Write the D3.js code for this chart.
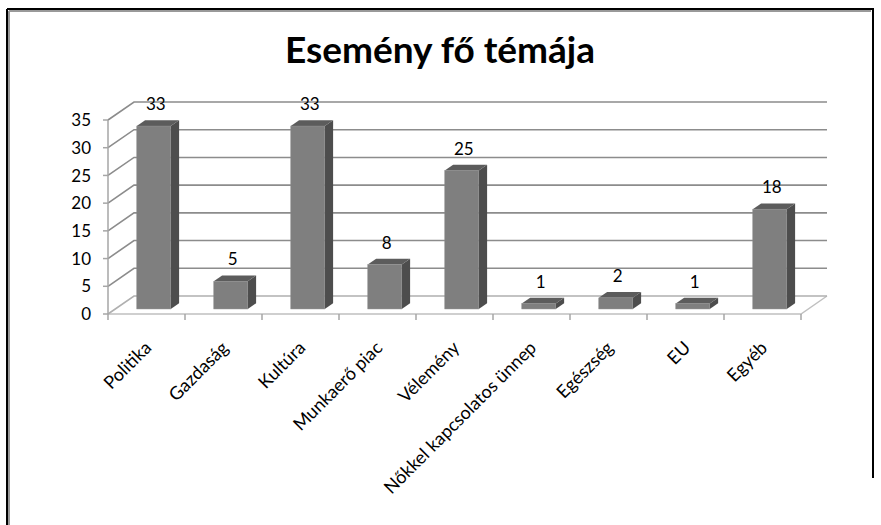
<!DOCTYPE html>
<html>
<head>
<meta charset="utf-8">
<script src="https://cdn.jsdelivr.net/npm/d3@7"></script>
<style>
  body { margin: 0; background: #fff; }
  text { font-family: Lato, "Open Sans", sans-serif; }
</style>
</head>
<body>
<svg id="chart" width="881" height="525"></svg>
<script>
var categories = ['Politika', 'Gazdaság', 'Kultúra', 'Munkaerő piac', 'Vélemény',
    'Nőkkel kapcsolatos ünnep', 'Egészség', 'EU', 'Egyéb'];
var values = [33, 5, 33, 8, 25, 1, 2, 1, 18];
var yTicks = [0, 5, 10, 15, 20, 25, 30, 35];
var title = 'Esemény fő témája';

var svg = d3.select('#chart');

// frame
svg.append('line').attr('x1', 7).attr('y1', 9).attr('x2', 873).attr('y2', 9).attr('stroke', '#000').attr('stroke-width', 2);
svg.append('line').attr('x1', 7).attr('y1', 9).attr('x2', 7).attr('y2', 525).attr('stroke', '#000').attr('stroke-width', 2);
svg.append('line').attr('x1', 9).attr('y1', 11).attr('x2', 871).attr('y2', 11).attr('stroke', '#999').attr('stroke-width', 2);
svg.append('line').attr('x1', 9).attr('y1', 11).attr('x2', 9).attr('y2', 525).attr('stroke', '#999').attr('stroke-width', 2);
svg.append('line').attr('x1', 873).attr('y1', 8).attr('x2', 873).attr('y2', 478).attr('stroke', '#000').attr('stroke-width', 2);

svg.append('text')
    .attr('x', 440)
    .attr('y', 63)
    .attr('text-anchor', 'middle')
    .style('font-size', '37px')
    .style('font-weight', 'bold')
    .text(title);

// 3d box: front plane + depth offset
var depthX = 26, depthY = -18;

var x = d3.scaleBand().domain(categories).range([108, 801]);
var y = d3.scaleLinear().domain([0, 35]).range([314, 120]);

function px(xv, d) { return xv + d * depthX; }
function py(v, d) { return y(v) + d * depthY; }

// floor
svg.append('path')
    .attr('d', 'M' + px(108, 0) + ',' + py(0, 0) + 'L' + px(801, 0) + ',' + py(0, 0) +
        'L' + px(801, 1) + ',' + py(0, 1))
    .attr('fill', 'none')
    .attr('stroke', '#c0c0c0')
    .attr('stroke-width', 1.5);

// side wall diagonals and back wall gridlines
yTicks.forEach(function(t) {
    svg.append('path')
        .attr('d', 'M' + px(108, 0) + ',' + py(t, 0) + 'L' + px(108, 1) + ',' + py(t, 1) +
            'L' + px(801, 1) + ',' + py(t, 1))
        .attr('fill', 'none')
        .attr('stroke', t === 0 ? '#b0b0b0' : '#8c8c8c')
        .attr('stroke-width', 1.6);
});

// front y axis
svg.append('line')
    .attr('x1', 108).attr('y1', y(0)).attr('x2', 108).attr('y2', y(35))
    .attr('stroke', '#a6a6a6').attr('stroke-width', 1.5);

svg.selectAll('.ytick')
    .data(yTicks)
    .enter()
    .append('line')
    .attr('x1', 103).attr('x2', 108)
    .attr('y1', function(d) { return y(d); })
    .attr('y2', function(d) { return y(d); })
    .attr('stroke', '#a6a6a6').attr('stroke-width', 1.5);

svg.selectAll('.ylab')
    .data(yTicks)
    .enter()
    .append('text')
    .attr('x', 91)
    .attr('y', function(d) { return y(d); })
    .attr('dy', '0.36em')
    .attr('text-anchor', 'end')
    .style('font-size', '17px')
    .text(function(d) { return d; });

// x ticks
var xEdges = categories.map(function(c) { return x(c); }).concat([801]);
svg.selectAll('.xtick')
    .data(xEdges)
    .enter()
    .append('line')
    .attr('x1', function(d) { return d; })
    .attr('x2', function(d) { return d; })
    .attr('y1', 314).attr('y2', 320)
    .attr('stroke', '#a6a6a6').attr('stroke-width', 1.5);

// bars
var d0 = 0.28, d1 = 0.6, barW = 34;
var bars = svg.selectAll('.bar')
    .data(values)
    .enter()
    .append('g')
    .attr('class', 'bar');

bars.each(function(v, i) {
    var g = d3.select(this);
    var cx = x(categories[i]) + x.bandwidth() / 2;
    var xl = px(cx - barW / 2, d0), xr = px(cx + barW / 2, d0);
    var yt = py(v, d0), yb = py(0, d0);
    var ox = (d1 - d0) * depthX, oy = (d1 - d0) * depthY;
    // side
    g.append('path')
        .attr('d', 'M' + xr + ',' + yb + 'L' + (xr + ox) + ',' + (yb + oy) + 'L' + (xr + ox) + ',' + (yt + oy) +
            'L' + xr + ',' + yt + 'Z')
        .attr('fill', '#4d4d4d');
    // top
    g.append('path')
        .attr('d', 'M' + xl + ',' + yt + 'L' + xr + ',' + yt + 'L' + (xr + ox) + ',' + (yt + oy) +
            'L' + (xl + ox) + ',' + (yt + oy) + 'Z')
        .attr('fill', '#5c5c5c');
    // front
    g.append('rect')
        .attr('x', xl).attr('y', yt)
        .attr('width', xr - xl).attr('height', yb - yt)
        .attr('fill', '#7f7f7f')
        .attr('stroke', '#8a8a8a')
        .attr('stroke-width', 0.5);
    g.append('text')
        .attr('x', (xl + xr) / 2 + 2)
        .attr('y', yt + oy - 10)
        .attr('text-anchor', 'middle')
        .style('font-size', '17px')
        .text(v);
});

// category labels
svg.selectAll('.xlab')
    .data(categories)
    .enter()
    .append('text')
    .attr('transform', function(d) {
        return 'translate(' + (x(d) + x.bandwidth() / 2 + 6) + ',349) rotate(-45)';
    })
    .attr('text-anchor', 'end')
    .style('font-size', '18px')
    .text(function(d) { return d; });
</script>
</body>
</html>
